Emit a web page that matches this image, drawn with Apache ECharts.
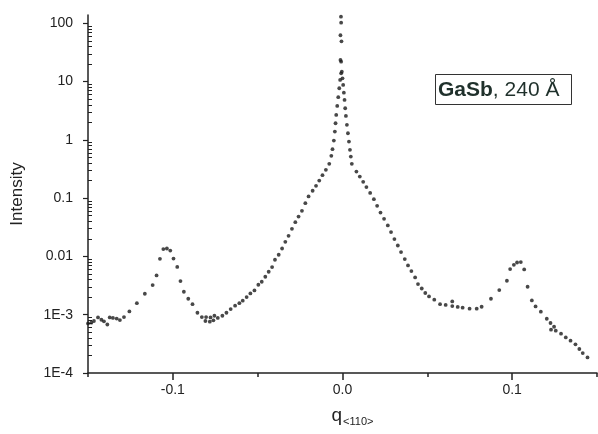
<!DOCTYPE html>
<html>
<head>
<meta charset="utf-8">
<script src="https://cdn.jsdelivr.net/npm/echarts@6/dist/echarts.min.js"></script>
<style>
html,body{margin:0;padding:0;background:#fff;}
#chart{width:598px;height:434px;}
</style>
</head>
<body>
<div id="chart"></div>
<script>
// Left branch + central peak (q, intensity)
const leftQ = [-0.150,-0.148,-0.1465,-0.1441,-0.1421,-0.1406,-0.1386,-0.1372,-0.1353,-0.1331,
  -0.1312,-0.1288,-0.1256,-0.1212,-0.1165,-0.1119,-0.1096,-0.1076,-0.1056,-0.1035,
  -0.1015,-0.0996,-0.0974,-0.0955,-0.0935,-0.0909,-0.0884,-0.0855,-0.0829,-0.0808,
  -0.0804,-0.0782,-0.0778,-0.0761,-0.0755,-0.0735,-0.0708,-0.0684,-0.0659,-0.0633,
  -0.0608,-0.0588,-0.0565,-0.0543,-0.0519,-0.0496,-0.0476,-0.0455,-0.0435,-0.0415,
  -0.0398,-0.0376,-0.0356,-0.0337,-0.0318,-0.0298,-0.0278,-0.0259,-0.0239,-0.0219,
  -0.0200,-0.0176,-0.0156,-0.0137,-0.0118,-0.0098,-0.0078,-0.0066,-0.0059,-0.0051,
  -0.0045,-0.0041,-0.0037,-0.0031,-0.0025,-0.0019,-0.0014,-0.0008,-0.0008,-0.0012,
  -0.0006,-0.0012,-0.0008,-0.0009];
const leftI = [7.1e-4,7.3e-4,7.8e-4,9.0e-4,8.2e-4,7.7e-4,6.8e-4,9.0e-4,8.8e-4,8.6e-4,
  8.1e-4,9.1e-4,1.14e-3,1.58e-3,2.29e-3,3.23e-3,4.72e-3,9.1e-3,1.34e-2,1.37e-2,
  1.26e-2,9.2e-3,6.6e-3,3.78e-3,2.48e-3,1.88e-3,1.52e-3,1.08e-3,9.1e-4,7.8e-4,
  9.1e-4,7.6e-4,9.0e-4,8.0e-4,9.6e-4,8.8e-4,9.6e-4,1.08e-3,1.25e-3,1.43e-3,
  1.58e-3,1.74e-3,2.01e-3,2.32e-3,2.61e-3,3.27e-3,3.68e-3,4.48e-3,5.46e-3,6.57e-3,
  8.77e-3,1.07e-2,1.37e-2,1.78e-2,2.26e-2,2.98e-2,3.88e-2,4.84e-2,6.07e-2,8.22e-2,
  0.107,0.134,0.163,0.200,0.248,0.306,0.388,0.532,0.693,0.973,
  1.39,1.93,2.68,3.83,5.40,7.70,10.7,13.9,22.0,23.5,
  49.2,62.4,102.5,130];
// Right branch (q, intensity)
const rightQ = [-0.0004,0.0000,0.0004,0.0008,0.0012,0.0016,0.0020,0.0026,0.0032,0.0038,
  0.0044,0.0049,0.0055,
  0.0082,0.0102,0.0122,0.0141,0.0163,0.0185,0.0204,0.0224,0.0245,0.0267,
  0.0286,0.0306,0.0326,0.0345,0.0367,0.0386,0.0406,0.0428,0.0445,0.0467,
  0.0488,0.0510,0.0541,0.0575,0.0608,0.0647,0.0647,0.0679,0.0708,0.0749,
  0.0791,0.0820,0.0875,0.0924,0.0969,0.0988,0.1010,0.1029,0.1051,0.1071,
  0.1091,0.1116,0.1138,0.1169,0.1204,0.1226,0.1229,0.1247,0.1257,0.1288,
  0.1316,0.1344,0.1373,0.1396,0.1416,0.1444];
const rightI = [14.8,11.4,8.77,6.47,4.85,3.49,2.58,1.81,1.30,0.935,
  0.674,0.517,0.388,
  0.286,0.235,0.191,0.155,0.123,0.0962,0.0739,0.0567,0.0442,0.0340,
  0.0262,0.0199,0.0154,0.0119,0.00902,0.00700,0.00561,0.00436,0.00336,0.00282,
  0.00236,0.00206,0.00181,0.00152,0.00147,0.00169,0.00141,0.00136,0.00132,0.00127,
  0.00127,0.00137,0.00188,0.00265,0.00383,0.00607,0.00719,0.00787,0.00800,0.00598,
  0.00302,0.00176,0.00139,0.00113,8.53e-4,7.21e-4,5.53e-4,6.22e-4,5.32e-4,4.72e-4,
  4.08e-4,3.58e-4,3.10e-4,2.58e-4,2.20e-4,1.85e-4];

// Tick values and labels
const xMajorTicks = [-0.1, 0, 0.1];
const xMinorTicks = [-0.15, -0.05, 0.05, 0.15];
const yMajorTicks = [1e-4, 1e-3, 0.01, 0.1, 1, 10, 100];
const yTickLabels = ['1E-4', '1E-3', '0.01', '0.1', '1', '10', '100'];
const yMinorTicks = [];
for (let k = -4; k <= 1; k++) {
  for (let m = 2; m <= 9; m++) yMinorTicks.push(m * Math.pow(10, k));
}

const FONT = '"Liberation Sans", Arial, Helvetica, sans-serif';
const INK = '#222';

const points = leftQ.map((q, i) => [q, leftI[i]]).concat(rightQ.map((q, i) => [q, rightI[i]]));

function yLabel(v) {
  let best = 0, bd = Infinity;
  yMajorTicks.forEach((t, i) => {
    const d = Math.abs(Math.log10(v) - Math.log10(t));
    if (d < bd) { bd = d; best = i; }
  });
  return yTickLabels[best];
}

const chart = echarts.init(document.getElementById('chart'), null, {renderer: 'canvas'});
chart.setOption({
  backgroundColor: '#fff',
  animation: false,
  textStyle: {fontFamily: FONT},
  title: {
    text: '{b|GaSb}, 240 Å',
    left: 435, top: 74,
    borderColor: '#333', borderWidth: 1,
    padding: [6, 12, 4, 3],
    textStyle: {fontSize: 21, fontWeight: 'normal', color: '#1f302b', fontFamily: FONT,
      rich: {b: {fontSize: 21, fontWeight: 'bold', color: '#1f302b', fontFamily: FONT}}}
  },
  grid: {left: 88, right: 1, top: 15, bottom: 61, containLabel: false},
  xAxis: [
    {
      type: 'value', min: -0.15, max: 0.15, position: 'bottom',
      name: '{q|q}{s|<110>}', nameLocation: 'middle', nameGap: 32,
      nameTextStyle: {rich: {
        q: {fontSize: 19, color: INK, fontFamily: FONT, padding: [0, 0, 0, 20]},
        s: {fontSize: 11, color: INK, fontFamily: FONT, padding: [11, 0, 0, 1]}
      }},
      axisLine: {onZero: false, lineStyle: {color: INK, width: 1.5}},
      axisTick: {show: true, length: 7, customValues: xMajorTicks, lineStyle: {color: INK, width: 1.5}},
      axisLabel: {customValues: xMajorTicks, formatter: v => v.toFixed(1), margin: 10, fontSize: 14, color: INK},
      splitLine: {show: false}
    },
    {
      type: 'value', min: -0.15, max: 0.15, position: 'bottom',
      axisLine: {show: false, onZero: false},
      axisTick: {show: true, length: 4, customValues: xMinorTicks, lineStyle: {color: INK, width: 1.5}},
      axisLabel: {show: false},
      splitLine: {show: false}
    }
  ],
  yAxis: [
    {
      type: 'log', logBase: 10, min: 1e-4, max: 139, position: 'left',
      name: 'Intensity', nameLocation: 'middle', nameGap: 62,
      nameTextStyle: {fontSize: 17, color: INK, fontFamily: FONT},
      axisLine: {show: true, onZero: false, lineStyle: {color: INK, width: 1.5}},
      axisTick: {show: true, length: 5, customValues: yMajorTicks, lineStyle: {color: INK, width: 1.2}},
      axisLabel: {customValues: yMajorTicks, formatter: yLabel, margin: 15, fontSize: 14, color: INK},
      splitLine: {show: false}
    },
    {
      type: 'log', logBase: 10, min: 1e-4, max: 139, position: 'left',
      axisLine: {show: false, onZero: false},
      axisTick: {show: true, inside: true, length: 4, customValues: yMinorTicks, lineStyle: {color: INK, width: 1}},
      axisLabel: {show: false},
      splitLine: {show: false}
    }
  ],
  series: [{
    type: 'scatter',
    xAxisIndex: 0, yAxisIndex: 0,
    data: points,
    symbol: 'circle',
    symbolSize: 3.8,
    clip: false,
    itemStyle: {color: '#1a1a1a'}
  }]
});
</script>
</body>
</html>
